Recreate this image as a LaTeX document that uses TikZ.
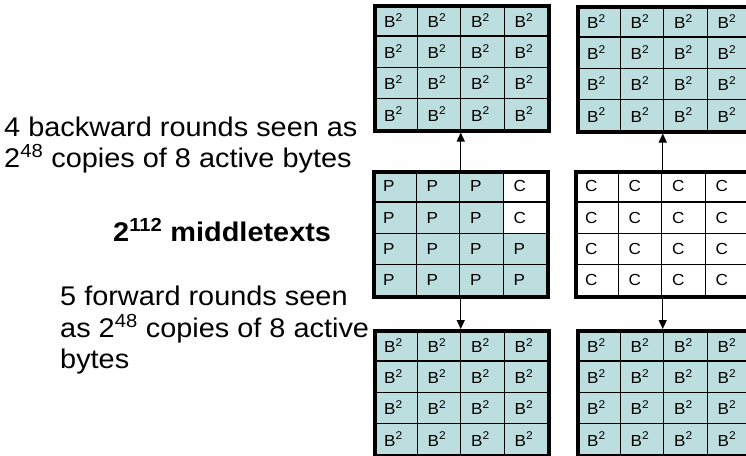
\documentclass[tikz,border=0pt]{standalone}
\usepackage{fontspec}
\usepackage{graphicx}
\setmainfont{Liberation Sans}
\usetikzlibrary{arrows.meta,calc}
\definecolor{cellfill}{RGB}{189,222,223}
\tikzset{
  cell/.style={draw, line width=1.4pt, fill=cellfill, minimum width=43.5pt,
    minimum height=31.25pt, text width=22.5pt, inner xsep=10.5pt, inner ysep=0pt,
    align=left, anchor=north west, font=\fontsize{16}{18}\selectfont},
  tint/.style={},
  blank/.style={fill=white},
  frame/.style={draw, line width=3.5pt, minimum width=174pt, minimum height=125pt,
    anchor=north west, inner sep=0pt},
  caption/.style={font=\fontsize{27}{31}\selectfont, anchor=base west, inner sep=0pt},
  flow/.style={line width=1.3pt, -{Triangle[width=8pt,length=9pt]}}
}
% slightly widened lettering
\newcommand\wide[1]{\scalebox{1.07}[1]{#1}}
% cell contents of the 4x4 byte states, row by row
\def\Bcells{B\textsuperscript{2}/tint,B\textsuperscript{2}/tint,B\textsuperscript{2}/tint,B\textsuperscript{2}/tint,
B\textsuperscript{2}/tint,B\textsuperscript{2}/tint,B\textsuperscript{2}/tint,B\textsuperscript{2}/tint,
B\textsuperscript{2}/tint,B\textsuperscript{2}/tint,B\textsuperscript{2}/tint,B\textsuperscript{2}/tint,
B\textsuperscript{2}/tint,B\textsuperscript{2}/tint,B\textsuperscript{2}/tint,B\textsuperscript{2}/tint}
\def\Pcells{P/tint,P/tint,P/tint,C/blank,P/tint,P/tint,P/tint,C/blank,
P/tint,P/tint,P/tint,P/tint,P/tint,P/tint,P/tint,P/tint}
\def\Ccells{C/blank,C/blank,C/blank,C/blank,C/blank,C/blank,C/blank,C/blank,
C/blank,C/blank,C/blank,C/blank,C/blank,C/blank,C/blank,C/blank}
% #1 name, #2 left, #3 top, #4 cell list macro
\newcommand\stategrid[4]{%
  \foreach \lab/\sty [count=\i from 0] in #4 {
    \pgfmathtruncatemacro\gr{int(\i/4)}
    \pgfmathtruncatemacro\gc{mod(\i,4)}
    \node[cell,\sty] (#1-\gr-\gc) at (#2+\gc*43.5, #3+\gr*31.25) {\wide{\lab}};
  }
  \node[frame] (#1) at (#2,#3) {};
}
\begin{document}
\begin{tikzpicture}[x=1pt, y=-1pt]
  \useasboundingbox (0,0) rectangle (746,455);
  \clip (0,0) rectangle (746,455);

  \stategrid{g1}{373}{4}{\Bcells}
  \stategrid{g2}{576}{5}{\Bcells}
  \stategrid{g3}{372}{170}{\Pcells}
  \stategrid{g4}{574}{170}{\Ccells}
  \stategrid{g5}{373}{329}{\Bcells}
  \stategrid{g6}{576}{329}{\Bcells}

  \draw[flow] (g3.north) -- (g3.north |- g1.south);
  \draw[flow] (g3.south) -- (g3.south |- g5.north);
  \draw[flow] (g4.north) -- (g4.north |- g2.south);
  \draw[flow] (g4.south) -- (g4.south |- g6.north);

  \node[caption] (back1) at (4,136) {\wide{4 backward rounds seen as}};
  \node[caption] (back2) at (4,167) {\wide{2\textsuperscript{48} copies of 8 active bytes}};
  \node[caption, font=\fontsize{27}{31}\selectfont\bfseries] (mid) at (113,241) {\wide{2\textsuperscript{112} middletexts}};
  \node[caption] (fw1) at (60,305) {\wide{5 forward rounds seen}};
  \node[caption] (fw2) at (60,337) {\wide{as 2\textsuperscript{48} copies of 8 active}};
  \node[caption] (fw3) at (60,368) {\wide{bytes}};
\end{tikzpicture}
\end{document}
